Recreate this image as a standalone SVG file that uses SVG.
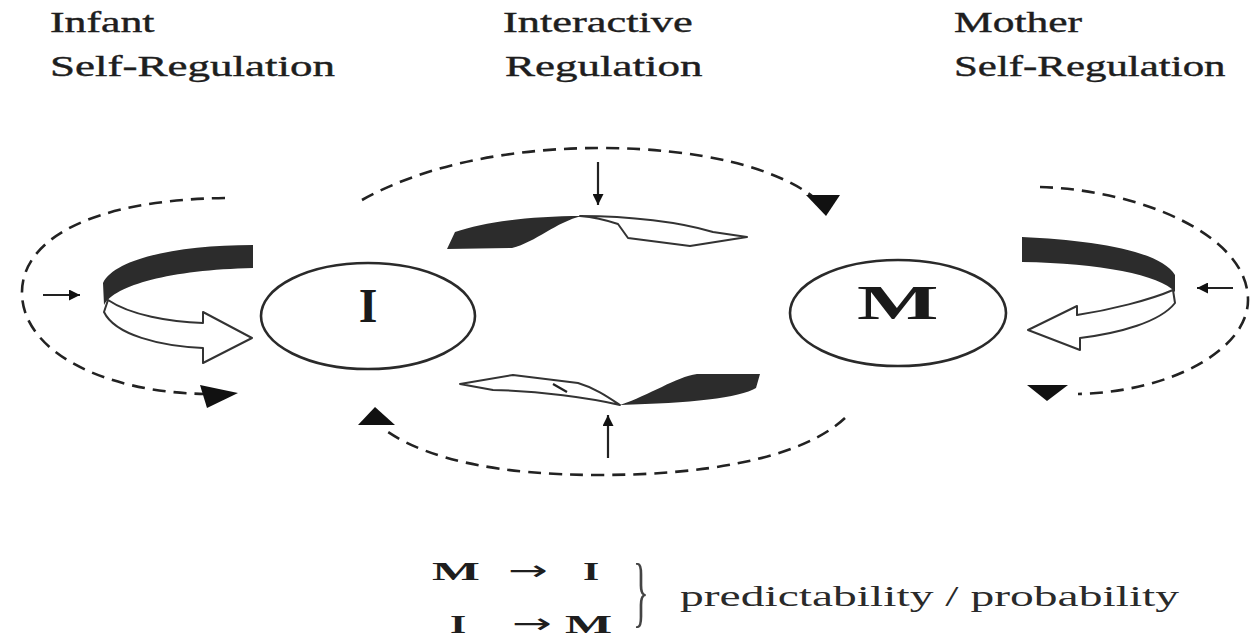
<svg xmlns="http://www.w3.org/2000/svg" width="1254" height="640" viewBox="0 0 1254 640">
<defs>
<style>
.hdr{font-family:"Liberation Serif",serif;font-size:30px;fill:#1e1e1e;stroke:#1e1e1e;stroke-width:0.4;}
.big{font-family:"Liberation Serif",serif;font-size:48px;font-weight:bold;fill:#1a1a1a;}
.eq{font-family:"Liberation Serif",serif;font-size:26px;font-weight:bold;fill:#1e1e1e;}
.arr{font-family:"DejaVu Sans",sans-serif;font-size:28px;fill:#1e1e1e;}
.lbl{font-family:"Liberation Serif",serif;font-size:29px;fill:#2a2a2a;}
.brace{font-family:"Liberation Serif",serif;font-size:78px;fill:#444;}
.dash{fill:none;stroke:#222;stroke-width:2.6;stroke-dasharray:13 8;}
.solid{fill:none;stroke:#222;stroke-width:2.2;}
.node{fill:#fff;stroke:#2a2a2a;stroke-width:2.6;}
.white{fill:#fff;stroke:#333;stroke-width:2;stroke-linejoin:round;}
.dark{fill:#2c2c2c;}
.head{fill:#111;}
</style>
<marker id="sm" viewBox="0 0 10 10" refX="10" refY="5" markerWidth="5" markerHeight="5" orient="auto" markerUnits="strokeWidth">
<path d="M0,0 L10,5 L0,10 Z" fill="#111"/>
</marker>
</defs>
<rect width="1254" height="640" fill="#fff"/>

<g id="headers">
<text class="hdr" transform="translate(50,32) scale(1.46,1)">Infant</text>
<text class="hdr" transform="translate(50,76) scale(1.5,1)">Self-Regulation</text>
<text class="hdr" transform="translate(503,32) scale(1.48,1)">Interactive</text>
<text class="hdr" transform="translate(505,76) scale(1.5,1)">Regulation</text>
<text class="hdr" transform="translate(954,32) scale(1.45,1)">Mother</text>
<text class="hdr" transform="translate(954,76) scale(1.43,1)">Self-Regulation</text>
</g>

<g id="connectors">
<!-- left self-regulation loop -->
<path class="dash" d="M225,198 C90,200 20,240 22,295 C24,350 100,392 205,394"/>
<polygon class="head" points="200,385 238,393 207,408"/>
<line class="solid" x1="43" y1="295" x2="80" y2="295" marker-end="url(#sm)"/>
<path class="dark" d="M253,245 C180,245 115,258 103,283 L104,305 C115,285 170,270 253,268 Z"/>
<path class="white" d="M108,300 C130,315 170,322 203,323 L203,312 L252,338 L203,363 L203,348 C160,346 115,335 104,312 Z"/>

<!-- top interactive loop -->
<path class="dash" d="M362,200 C430,162 520,148 600,148 C700,148 775,168 812,196"/>
<polygon class="head" points="806,195 840,195 826,216"/>
<line class="solid" x1="598" y1="162" x2="598" y2="205" marker-end="url(#sm)"/>
<path class="dark" d="M447,249 L455,232 C485,222 530,216 582,216 C556,222 536,242 512,248 Z"/>
<path class="white" d="M580,216 C630,216 680,222 713,232 L747,237 L690,246 L628,238 L618,224 C606,220 592,217 580,216 Z"/>

<!-- bottom interactive loop -->
<path class="dash" d="M845,418 C800,460 700,475 600,475 C500,475 430,460 388,432"/>
<polygon class="head" points="358,425 395,425 375,407"/>
<line class="solid" x1="608" y1="458" x2="608" y2="415" marker-end="url(#sm)"/>
<path class="dark" d="M620,405 C650,395 676,377 697,374 L760,374 L756,388 C740,398 690,403 620,405 Z"/>
<path class="white" d="M620,405 C590,398 540,391 493,390 L460,384 L513,375 L578,383 C595,388 608,397 620,405 Z"/>
<line class="solid" x1="553" y1="384" x2="567" y2="392" stroke-width="1.6"/>

<!-- right self-regulation loop -->
<path class="dash" d="M1040,187 C1140,190 1248,235 1248,300 C1248,350 1170,392 1078,394"/>
<polygon class="head" points="1027,385 1068,385 1047,401"/>
<line class="solid" x1="1233" y1="288" x2="1197" y2="288" marker-end="url(#sm)"/>
<path class="dark" d="M1022,237 C1090,240 1160,250 1175,275 L1175,292 C1160,275 1100,263 1022,262 Z"/>
<path class="white" d="M1173,290 C1150,300 1110,310 1077,315 L1077,306 L1028,330 L1080,350 L1080,338 C1120,333 1160,322 1175,303 Z"/>
</g>

<g id="node-I">
<ellipse class="node" cx="368" cy="316" rx="107" ry="53"/>
<text class="big" x="368" y="322" text-anchor="middle">I</text>
</g>

<g id="node-M">
<ellipse class="node" cx="898" cy="313" rx="108" ry="53"/>
<text class="big" transform="translate(857,319) scale(1.8,1)">M</text>
</g>

<g id="legend">
<text class="eq" transform="translate(432,580) scale(1.95,1)">M</text>
<text class="arr" transform="translate(508,580) scale(1.7,1)">→</text>
<text class="eq" transform="translate(583,580) scale(1.6,1)">I</text>
<text class="eq" transform="translate(450,633) scale(1.6,1)">I</text>
<text class="arr" transform="translate(512,633) scale(1.7,1)">→</text>
<text class="eq" transform="translate(565,633) scale(1.92,1)">M</text>
<text class="brace" transform="translate(633,618) scale(0.42,1)">}</text>
<text class="lbl" transform="translate(680,606) scale(1.64,1)">predictability / probability</text>
</g>
</svg>
